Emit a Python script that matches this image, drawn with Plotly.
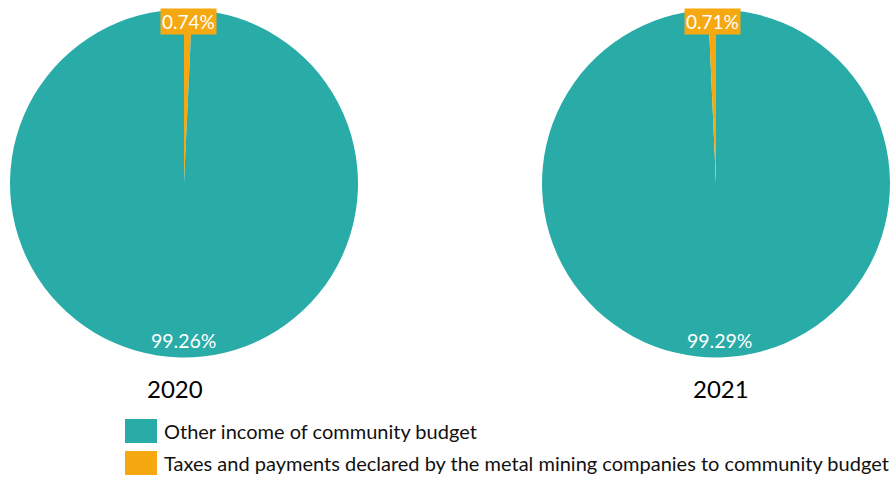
import plotly.graph_objects as go

years = ["2020", "2021"]
labels = ["Other income of community budget",
          "Taxes and payments declared by the metal mining companies to community budget"]
other_share = [99.26, 99.29]
mining_share = [0.74, 0.71]
colors = ["#29ACA8", "#F5A80F"]

W, H = 894, 478
# pie domains in pixels (left, right, top, bottom)
pies_px = [(10, 358, 9, 358), (542, 890, 9, 358)]
mining_first = [True, False]
label_shift = [4, -4]
pct_x = [183, 719]
year_x = [175, 721]

fig = go.Figure()
FONT = "Lato"
for i, yr in enumerate(years):
    l, r, t, b = pies_px[i]
    if mining_first[i]:
        labs = [labels[1], labels[0]]
        vals = [mining_share[i], other_share[i]]
        cols = [colors[1], colors[0]]
    else:
        labs = [labels[0], labels[1]]
        vals = [other_share[i], mining_share[i]]
        cols = [colors[0], colors[1]]
    fig.add_trace(go.Pie(
        labels=labs, values=vals,
        marker=dict(colors=cols, line=dict(width=0)),
        sort=False, direction="clockwise", rotation=0,
        textinfo="none", hoverinfo="label+percent",
        domain=dict(x=[l / W, r / W], y=[1 - b / H, 1 - t / H]),
        showlegend=False,
    ))
    cx = (l + r) / 2 / W
    # small slice label at top
    fig.add_annotation(x=cx + label_shift[i] / W, y=1 - 22 / H, xref="paper", yref="paper",
                       xanchor="center", yanchor="middle",
                       text=f"{mining_share[i]:.2f}%", showarrow=False,
                       font=dict(family=FONT, size=19, color="white"),
                       bgcolor=colors[1], borderpad=1)
    # big slice label at bottom
    fig.add_annotation(x=pct_x[i] / W, y=1 - 340 / H, xref="paper", yref="paper",
                       xanchor="center", yanchor="middle",
                       text=f"{other_share[i]:.2f}%", showarrow=False,
                       font=dict(family=FONT, size=19.5, color="white"))
    # year label
    fig.add_annotation(x=year_x[i] / W, y=1 - 388 / H, xref="paper", yref="paper",
                       xanchor="center", yanchor="middle",
                       text=yr, showarrow=False,
                       font=dict(family=FONT, size=24, color="black"))

# custom legend
rows = [(419, 443), (451, 475)]
for j, lab in enumerate(labels):
    t, b = rows[j]
    fig.add_shape(type="rect", xref="paper", yref="paper",
                  x0=125 / W, x1=157 / W, y0=1 - b / H, y1=1 - t / H,
                  fillcolor=colors[j], line=dict(width=0))
    fig.add_annotation(x=162 / W, y=1 - (t + b) / 2 / H, xref="paper", yref="paper",
                       xanchor="left", yanchor="middle", text=lab, showarrow=False,
                       font=dict(family=FONT, size=20, color="#111111"))

fig.update_layout(width=W, height=H, margin=dict(l=0, r=0, t=0, b=0),
                  paper_bgcolor="white", plot_bgcolor="white", showlegend=False)
fig.write_html("out.html")
